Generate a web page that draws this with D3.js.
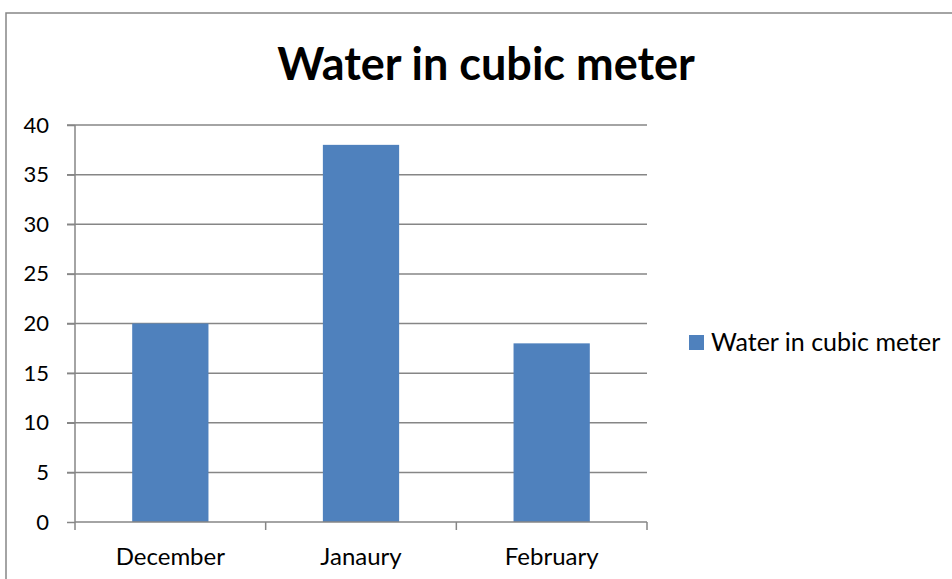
<!DOCTYPE html>
<html><head><meta charset="utf-8">
<script src="https://cdn.jsdelivr.net/npm/d3@7"></script>
<style>body{margin:0;background:#fff}svg{display:block}</style>
</head><body>
<svg id="c" width="952" height="579"></svg>
<script>
const categories = ["December", "Janaury", "February"];
const values = [20, 38, 18];
const yTicks = [0, 5, 10, 15, 20, 25, 30, 35, 40];
const seriesName = "Water in cubic meter";
const title = "Water in cubic meter";

(function () {
const svg = d3.select("#c");
const font = "Lato, 'Open Sans', sans-serif";
const pLeft = 75, pRight = 647, pTop = 125, pBottom = 522;
const x = d3.scaleBand().domain(categories).range([pLeft, pRight]).paddingInner(0.6).paddingOuter(0.3);
const xb = d3.scaleBand().domain(categories).range([pLeft, pRight]);
const y = d3.scaleLinear().domain([0, 40]).range([pBottom, pTop]);
const grey = "#868686";

svg.append("rect").attr("x", 6).attr("y", 13).attr("width", 960).attr("height", 600)
  .attr("fill", "none").attr("stroke", grey).attr("stroke-width", 1.5);

svg.append("g").selectAll("line").data(yTicks.filter(d => d > 0)).join("line")
  .attr("x1", 67).attr("x2", pRight).attr("y1", d => y(d)).attr("y2", d => y(d))
  .attr("stroke", grey).attr("stroke-width", 1.5);

svg.append("g").selectAll("rect").data(values).join("rect")
  .attr("x", (d, i) => x(categories[i])).attr("width", x.bandwidth())
  .attr("y", d => y(d)).attr("height", d => y(0) - y(d))
  .attr("fill", "#4F81BD");

const ya = d3.axisLeft(y).tickValues(yTicks).tickSize(8).tickPadding(18);
const gy = svg.append("g").attr("transform", `translate(${pLeft},0)`).call(ya);
gy.select(".domain").attr("stroke", grey).attr("stroke-width", 1.5).attr("d", `M0,${pTop}V${pBottom}`);
gy.selectAll(".tick line").attr("stroke", grey).attr("stroke-width", 1.5);
gy.selectAll(".tick text").attr("font-family", font).attr("font-size", 22).attr("fill", "#000");

const xa = d3.axisBottom(xb).tickSize(0).tickPadding(26);
const gx = svg.append("g").attr("transform", `translate(0,${pBottom})`).call(xa);
gx.select(".domain").attr("stroke", grey).attr("stroke-width", 1.5).attr("d", `M${pLeft},0H${pRight}`);
gx.selectAll(".tick text").attr("font-family", font).attr("font-size", 24).attr("fill", "#000");
const bounds = categories.map(c => xb(c)).concat([pRight]);
gx.selectAll("line.sep").data(bounds).join("line").attr("class", "sep")
  .attr("x1", d => d).attr("x2", d => d).attr("y1", 0).attr("y2", 8)
  .attr("stroke", grey).attr("stroke-width", 1.5);

svg.append("text").attr("x", 486).attr("y", 80).attr("text-anchor", "middle")
  .attr("font-family", font).attr("font-weight", "bold").attr("font-size", 45).text(title);

const lg = svg.append("g").attr("transform", "translate(689,335)");
lg.append("rect").attr("width", 15).attr("height", 15).attr("fill", "#4F81BD");
lg.append("text").attr("x", 22).attr("y", 16).attr("font-family", font).attr("font-size", 25).text(seriesName);
})();
</script>
</body></html>
